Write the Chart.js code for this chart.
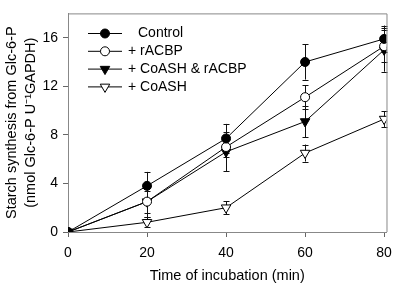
<!DOCTYPE html>
<html>
<head>
<meta charset="utf-8">
<script src="https://cdn.jsdelivr.net/npm/chart.js@4"></script>
<style>
  html, body { margin: 0; padding: 0; background: #fff; }
  #wrap { width: 400px; height: 286px; }
</style>
</head>
<body>
<div id="wrap"><canvas id="myChart"></canvas></div>
<script>
// incubation times (min)
const times = [0, 20, 40, 60, 80];
const xTicks = [0, 20, 40, 60, 80];
const yTicks = [0, 4, 8, 12, 16];

const labels = ["Control", "+ rACBP", "+ CoASH & rACBP", "+ CoASH"];

const control = [0, 3.8, 7.7, 14.0, 15.9];
const controlErr = [0, 1.15, 1.2, 1.45, 1.1];
const racbp = [0, 2.5, 7.0, 11.1, 15.3];
const racbpErr = [0, 0.9, 0.8, 1.0, 1.3];
const coashRacbp = [0, 2.5, 6.6, 9.1, 15.0];
const coashRacbpErr = [0, 1.3, 1.6, 1.3, 1.8];
const coash = [0, 0.8, 2.0, 6.5, 9.3];
const coashErr = [0, 0.4, 0.55, 0.7, 0.65];

const errors = [controlErr, racbpErr, coashRacbpErr, coashErr];

const FONT = "'Liberation Sans', Arial, sans-serif";
Chart.defaults.font.family = FONT;
Chart.defaults.color = "#000";

function series(label, vals, style, fill, radius) {
  return {
    label: label,
    data: times.map((t, i) => ({ x: t, y: vals[i] })),
    borderColor: "#000",
    borderWidth: 1,
    pointStyle: style,
    rotation: style == "triangle" ? 180 : 0,
    pointRadius: radius,
    pointHoverRadius: radius,
    pointBackgroundColor: fill,
    pointBorderColor: "#000",
    pointBorderWidth: 1,
    tension: 0,
    fill: false,
  };
}

// error bars, placed with the chart's own scales
const errorBars = {
  id: "errorBars",
  beforeDatasetsDraw(chart) {
    const ctx = chart.ctx;
    const ys = chart.scales.y;
    ctx.save();
    ctx.strokeStyle = "#111";
    ctx.lineWidth = 1;
    chart.data.datasets.forEach((ds, d) => {
      const meta = chart.getDatasetMeta(d);
      meta.data.forEach((pt, i) => {
        const e = errors[d][i];
        if (!e) return;
        const v = ds.data[i].y;
        const top = ys.getPixelForValue(v + e);
        const bot = ys.getPixelForValue(v - e);
        const x = Math.round(pt.x) + 0.5;
        ctx.beginPath();
        ctx.moveTo(x, top);
        ctx.lineTo(x, bot);
        ctx.moveTo(x - 3, Math.round(top) + 0.5);
        ctx.lineTo(x + 3, Math.round(top) + 0.5);
        ctx.moveTo(x - 3, Math.round(bot) + 0.5);
        ctx.lineTo(x + 3, Math.round(bot) + 0.5);
        ctx.stroke();
      });
    });
    ctx.restore();
  },
};

// frame round the plot + legend inside it
const frameAndLegend = {
  id: "frameAndLegend",
  afterDraw(chart) {
    const ctx = chart.ctx;
    const a = chart.chartArea;
    ctx.save();
    ctx.strokeStyle = "#888";
    ctx.lineWidth = 1;
    ctx.beginPath();
    ctx.moveTo(a.left, a.top + 0.5);
    ctx.lineTo(a.right + 0.5, a.top + 0.5);
    ctx.lineTo(a.right + 0.5, a.bottom);
    ctx.stroke();

    ctx.font = "14px " + FONT;
    ctx.textBaseline = "middle";
    ctx.fillStyle = "#000";
    chart.data.datasets.forEach((ds, i) => {
      const y = 33.5 + i * 17.8;
      ctx.strokeStyle = "#000";
      ctx.beginPath();
      ctx.moveTo(88, y);
      ctx.lineTo(122, y);
      ctx.stroke();
      ctx.fillStyle = ds.pointBackgroundColor;
      ctx.strokeStyle = "#000";
      Chart.helpers.drawPoint(ctx, {
        pointStyle: ds.pointStyle,
        rotation: ds.rotation,
        radius: ds.pointRadius,
        borderWidth: 1,
      }, 105, y);
      ctx.fillStyle = "#000";
      const tx = ds.label.startsWith("+") ? 128 : 138;
      ctx.fillText(ds.label, tx, y);
    });
    ctx.restore();
  },
};

const ctx = document.getElementById("myChart").getContext("2d");
const myChart = new Chart(ctx, {
  type: "line",
  data: {
    datasets: [
      series(labels[0], control, "circle", "#000", 4.5),
      series(labels[1], racbp, "circle", "#fff", 4.5),
      series(labels[2], coashRacbp, "triangle", "#000", 5.5),
      series(labels[3], coash, "triangle", "#fff", 5.5),
    ],
  },
  options: {
    responsive: true,
    maintainAspectRatio: false,
    animation: false,
    layout: { padding: { top: 3, right: 12, left: 0, bottom: 0 } },
    plugins: {
      legend: { display: false },
      tooltip: { enabled: false },
    },
    scales: {
      x: {
        type: "linear",
        min: 0,
        max: 80.6,
        afterBuildTicks: (s) => { s.ticks = xTicks.map((v) => ({ value: v })); },
        afterFit: (s) => { s.height = 54; },
        ticks: { font: { size: 14 }, padding: 8, maxRotation: 0 },
        grid: { display: true, drawOnChartArea: false, drawTicks: true, tickLength: 5, color: "#666" },
        border: { display: true, color: "#888" },
        title: {
          display: true,
          text: "Time of incubation (min)",
          font: { size: 14.5 },
          padding: { top: 0, bottom: 1 },
        },
      },
      y: {
        min: 0,
        max: 18,
        afterBuildTicks: (s) => { s.ticks = yTicks.map((v) => ({ value: v })); },
        afterFit: (s) => { s.width = 68; },
        ticks: { font: { size: 14 }, padding: 5 },
        grid: { display: true, drawOnChartArea: false, drawTicks: true, tickLength: 5, color: "#666" },
        border: { display: true, color: "#888" },
        title: {
          display: true,
          text: ["Starch synthesis from Glc-6-P", "(nmol Glc-6-P U\u207B\u00B9GAPDH)"],
          font: { size: 14.5, lineHeight: 1.31 },
          padding: { top: 3, bottom: 0 },
        },
      },
    },
  },
  plugins: [errorBars, frameAndLegend],
});
</script>
</body>
</html>
